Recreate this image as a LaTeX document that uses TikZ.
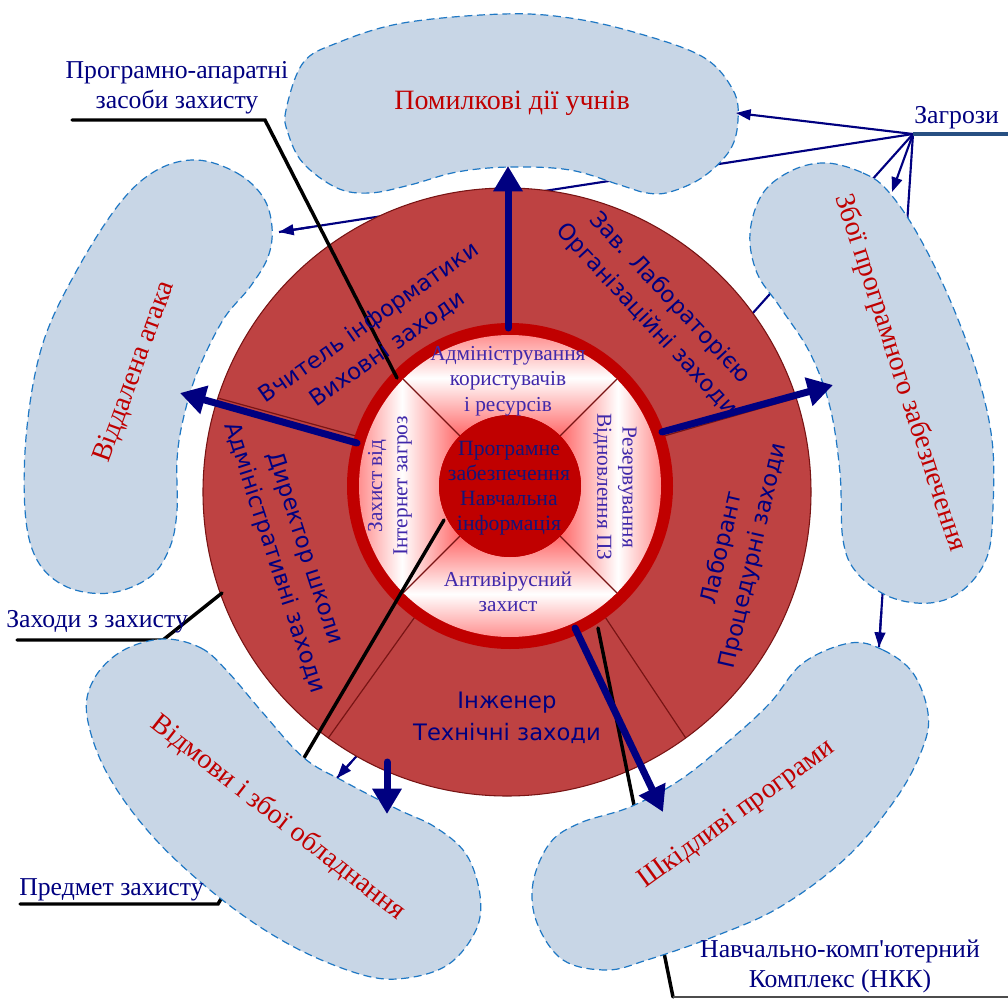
\documentclass[tikz,border=0pt]{standalone}
\usepackage{fontspec}
\setmainfont{Liberation Serif}
\newfontfamily\sansf{DejaVu Sans}
\usetikzlibrary{arrows.meta,calc}

\definecolor{navy}{RGB}{0,0,128}
\definecolor{blobfill}{RGB}{200,214,230}
\definecolor{blobedge}{RGB}{31,120,196}
\definecolor{diskred}{RGB}{190,66,66}
\definecolor{diskedge}{RGB}{120,20,20}
\definecolor{ringred}{RGB}{192,0,0}
\definecolor{pinkish}{RGB}{255,105,105}
\definecolor{ringtext}{RGB}{64,40,170}
\definecolor{coretext}{RGB}{20,20,120}
\definecolor{threat}{RGB}{192,0,0}
\definecolor{steel}{RGB}{40,80,130}

\tikzset{
  threatline/.style={draw=navy, line width=1.6pt},
  threattip/.style={threatline, -{Triangle[length=11pt,width=8pt]}},
  bigarrow/.style={draw=navy, line width=5.25pt, line cap=round, -{Triangle[length=19pt,width=21pt]}},
  pointer/.style={draw=black, line width=2.6pt, line cap=round, line join=miter},
  blob/.style={fill=blobfill, draw=blobedge, line width=0.9pt, dash pattern=on 6pt off 3.5pt},
  sector line/.style={draw=diskedge, line width=0.9pt},
  threatlabel/.style={text=threat, font=\fontsize{21}{24}\selectfont, inner sep=0pt},
  rolelabel/.style={text=navy, font=\sansf\fontsize{17}{24}\selectfont, align=center, inner sep=0pt},
  ringlabel/.style={text=ringtext, font=\fontsize{16}{19}\selectfont, align=center, inner sep=0pt},
  corelabel/.style={text=coretext, font=\fontsize{16.3}{18.9}\selectfont, align=center, inner sep=0pt},
  sidelabel/.style={text=navy, font=\fontsize{19.3}{22.5}\selectfont, align=center, inner sep=0pt},
}

% white ring quadrant: #1,#2 = angles, #3 = shading angle
\newcommand\ringquad[3]{%
  \path[left color=pinkish, right color=pinkish, middle color=white, shading angle=#3]
    ($(I)+(#1:151)$) arc[start angle=#1, end angle=#2, radius=151]
    -- ($(I)+(#2:71)$) arc[start angle=#2, end angle=#1, radius=71] -- cycle;}

\begin{document}
\begin{tikzpicture}[x=0.75pt,y=-0.75pt]
\fill[white] (0,0) rectangle (1008,999);
\useasboundingbox (0,0) rectangle (1008,999);

% centres and end points
\coordinate (O) at (507,492);
\coordinate (I) at (510,486);
\coordinate (Z) at (913,134);
\coordinate (Zend) at (1008,134);
\coordinate (tTop) at (736,113);
\coordinate (tLeft) at (279,232);
\coordinate (tRight) at (892,192);
\coordinate (tBL) at (337,778);
\coordinate (tBR) at (879,647);

% threat lines running behind the shapes
\draw[threatline] (Z) -- (tLeft);
\draw[threatline] (Z) -- (tBL);
\draw[threatline] (Z) -- (tBR);

% outer disk with five sectors
\draw[fill=diskred, draw=diskedge, line width=0.8pt] (O) circle[radius=304];
\foreach \a in {-90,-18,54,126,-162}
  \draw[sector line] ($(I)+(\a:160)$) -- ($(O)+(\a:304)$);

% red band, white ring, core
\fill[ringred] (I) circle[radius=163];
\ringquad{-45}{-135}{0}
\ringquad{-135}{-225}{90}
\ringquad{-225}{-315}{0}
\ringquad{45}{-45}{90}
\foreach \a in {45,135,225,315}
  \draw[draw=diskedge, line width=1pt] ($(I)+(\a:71)$) -- ($(I)+(\a:151)$);
\fill[ringred] (I) circle[radius=71];

% leader lines of the side labels
\coordinate (p1a) at (72,120);  \coordinate (p1b) at (265,120); \coordinate (p1c) at (397,378);
\coordinate (p2a) at (17,640);  \coordinate (p2b) at (163,640); \coordinate (p2c) at (222,593);
\coordinate (p3a) at (20,904);  \coordinate (p3b) at (218,904); \coordinate (p3c) at (444,520);
\coordinate (p4a) at (598,628); \coordinate (p4b) at (673,997); \coordinate (p4c) at (1008,997);
\draw[pointer] (p1a) -- (p1b) -- (p1c);
\draw[pointer] (p2a) -- (p2b) -- (p2c);
\draw[pointer] (p3a) -- (p3b) -- (p3c);
\draw[pointer] (p4a) -- (p4b);
\draw[draw=black!70, line width=0.8pt] (p4b) -- (p4c);

% threat areas
\path[blob] plot[smooth cycle, tension=0.6] coordinates {
  (286,110) (288,133) (303,163) (337,188) (370,193) (410,185) (457,172) (510,167)
  (570,170) (620,185) (647,193) (670,192) (703,177) (730,150) (738,120) (733,90)
  (703,57) (637,33) (570,18) (503,14) (403,23) (337,43) (303,63)};
\path[blob] plot[smooth cycle, tension=0.6] coordinates {
  (197,160) (237,173) (263,197) (272,227) (268,257) (250,287) (223,320) (197,373)
  (183,420) (177,460) (177,510) (170,547) (150,577) (110,593) (67,587) (37,560)
  (25,510) (27,427) (43,343) (77,270) (120,203) (157,170)};
\path[blob] plot[smooth cycle, tension=0.6] coordinates {
  (827,163) (863,173) (887,190) (917,233) (950,300) (977,373) (992,440) (993,507)
  (987,557) (963,590) (930,603) (890,597) (857,573) (843,540) (840,473) (830,407)
  (810,353) (780,307) (757,273) (750,233) (763,193) (793,170)};
\path[blob] plot[smooth cycle, tension=0.6] coordinates {
  (163,639) (201,648) (228,672) (263,713) (304,758) (345,782) (397,809) (435,827)
  (466,854) (480,895) (476,930) (449,964) (407,978) (363,975) (294,947) (225,902)
  (156,840) (108,775) (87,716) (94,679) (122,651)};
\path[blob] plot[smooth cycle, tension=0.6] coordinates {
  (850,643) (883,650) (913,673) (928,713) (923,747) (897,797) (847,857) (780,907)
  (713,937) (647,960) (607,970) (563,960) (537,923) (533,883) (550,843) (580,823)
  (630,807) (680,780) (730,740) (770,703) (803,663)};

% threat arrows on top
\draw[threattip] (Z) -- (tTop);
\draw[threattip] (Z) -- (tRight);
\draw[threattip] ($(Z)!0.95!(tLeft)$) -- (tLeft);
\draw[threattip] ($(Z)!0.975!(tBL)$) -- (tBL);
\draw[threattip] ($(Z)!0.93!(tBR)$) -- (tBR);
\draw[draw=steel, line width=2.6pt] (Z) -- (Zend);

% protection arrows
\coordinate (aT0) at (508,328); \coordinate (aT1) at (508,166);
\coordinate (aR0) at (662,432); \coordinate (aR1) at (833,385);
\coordinate (aL0) at (357,443); \coordinate (aL1) at (180,393);
\coordinate (aD0) at (575,628); \coordinate (aD1) at (663,812);
\coordinate (aB0) at (387,762); \coordinate (aB1) at (387,814);
\draw[bigarrow] (aT0) -- (aT1);
\draw[bigarrow] (aR0) -- (aR1);
\draw[bigarrow] (aL0) -- (aL1);
\draw[bigarrow] (aD0) -- (aD1);
\draw[bigarrow] (aB0) -- (aB1);

% core
\node[corelabel] (core) at (509,488) {Програмне\\забезпечення\\Навчальна\\інформація};

% white ring texts
\node[ringlabel] (admin) at (508,381) {Адміністрування\\користувачів\\і ресурсів};
\node[ringlabel, rotate=-90] (backup) at (615,487) {Резервування\\Відновлення ПЗ};
\node[ringlabel] (antivirus) at (508,592) {Антивірусний\\захист};
\node[ringlabel, rotate=90] (inet) at (390,486) {Захист від\\Інтернет загроз};

% roles in the outer disk
\node[rolelabel, rotate=35] (teacher) at (378,336) {Вчитель інформатики\\Виховні заходи};
\node[rolelabel, rotate=-47] (head) at (658,309) {Зав. Лабораторією\\Організаційні заходи};
\node[rolelabel, rotate=77] (assistant) at (738,552) {Лаборант\\Процедурні заходи};
\node[rolelabel] (engineer) at (507,718) {Інженер\\Технічні заходи};
\node[rolelabel, rotate=-72] (director) at (289,553) {Директор школи\\Адміністративні заходи};

% threats
\node[threatlabel] (t1) at (512,103) {Помилкові дії учнів};
\node[threatlabel, rotate=70] (t2) at (135,372) {Віддалена атака};
\node[threatlabel, rotate=-72] (t3) at (900,373) {Збої програмного забезпечення};
\node[threatlabel, rotate=-38] (t4) at (278,818) {Відмови і збої обладнання};
\node[threatlabel, rotate=36] (t5) at (737,815) {Шкідливі програми};

% side labels
\node[sidelabel] (l1) at (177,88) {Програмно-апаратні\\засоби захисту};
\node[sidelabel, anchor=base west] (l2) at (914,123) {Загрози};
\node[sidelabel, anchor=base west] (l3) at (6,627) {Заходи з захисту};
\node[sidelabel, anchor=base west] (l4) at (19,895) {Предмет захисту};
\node[sidelabel] (l5) at (840,966) {Навчально-комп\textquotesingle ютерний\\Комплекс (НКК)};
\end{tikzpicture}
\end{document}
